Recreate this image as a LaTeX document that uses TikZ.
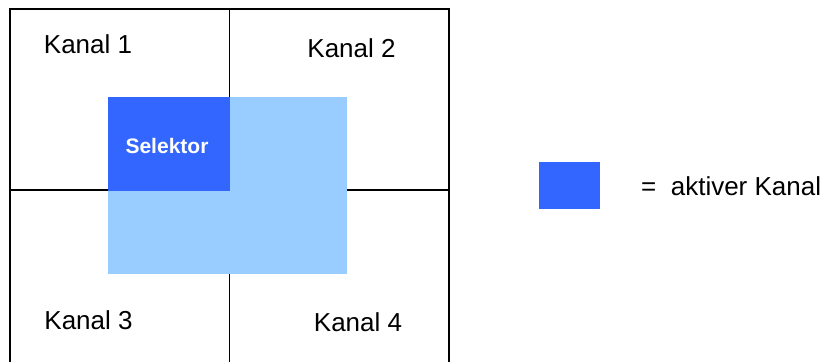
\documentclass[tikz,border=0pt]{standalone}
\usepackage{fontspec}
\setmainfont{Liberation Sans}
\usepackage{tikz}
\definecolor{aktiv}{HTML}{3366FF}
\definecolor{hell}{HTML}{99CCFF}
\tikzset{kanal/.style={font=\fontsize{26}{30}\selectfont, inner sep=0}}

\begin{document}
\begin{tikzpicture}[x=1pt, y=-1pt]
  \useasboundingbox (0, 0) rectangle (834, 361);

  % Raster der vier Kanaele
  \draw[line width=1.5pt] (10, 370) -- (10, 9) -- (449, 9) -- (449, 370);
  \draw[line width=1.5pt] (229.5, 9) -- (229.5, 370);
  \draw[line width=1.5pt] (10, 190) -- (449, 190);

  % Selektor
  \fill[hell] (108, 97) rectangle (347, 274);
  \fill[aktiv] (108, 97) rectangle (230, 191);
  \node[font=\bfseries\fontsize{21}{25}\selectfont, text=white, inner sep=0] at (167, 146) (sel) {Selektor};

  \node[kanal] at (88, 44) (k1) {Kanal 1};
  \node[kanal] at (351.5, 48) (k2) {Kanal 2};
  \node[kanal] at (88.5, 320) (k3) {Kanal 3};
  \node[kanal] at (358, 322) (k4) {Kanal 4};

  % Legende
  \node[fill=aktiv, minimum width=61, minimum height=47, inner sep=0] at (569.5, 185.5) (legende) {};
  \node[kanal, anchor=west] at (641, 186.5) (legtext) {=~~aktiver Kanal};
\end{tikzpicture}
\end{document}
